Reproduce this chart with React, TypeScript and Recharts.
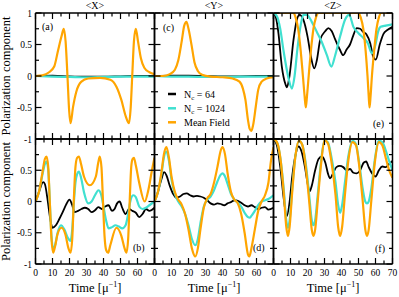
import { LineChart, Line, XAxis, YAxis } from 'recharts';

// (a) <X>, mean-field driven case
const aMfT = [0, 4, 8, 11, 13.3, 15.3, 16.6, 17.7, 18.8, 19.8, 20.6, 22.1, 24, 27, 31, 38, 44, 47.6, 50.5, 53.1, 55, 56, 56.9, 57.9, 59, 60.3, 62, 64, 67, 70];
const aMfV = [0, 0.01, 0.06, 0.15, 0.41, 0.63, 0.75, 0.55, 0, -0.55, -0.75, -0.49, -0.25, -0.09, -0.04, -0.03, -0.06, -0.17, -0.38, -0.64, -0.75, -0.5, 0, 0.55, 0.75, 0.55, 0.28, 0.13, 0.06, 0.03];
const aNcT = [0, 10, 20, 30, 40, 50, 60, 70];
const aN64V = [0, 0.005, -0.005, -0.01, -0.01, -0.005, 0, 0];
const aN1024V = [0, -0.01, -0.015, -0.02, -0.015, -0.01, -0.01, -0.01];

// (c) <Y>
const cMfT = [0, 5, 9, 12, 14, 16, 17.5, 18.8, 20, 21.8, 23.5, 25.5, 28, 33, 40, 46, 50, 52, 53.5, 55, 56, 57, 58, 59.5, 61, 63, 66, 70];
const cMfV = [0, 0, 0.03, 0.1, 0.25, 0.55, 0.8, 0.86, 0.75, 0.49, 0.22, 0.08, 0.02, -0.01, -0.02, -0.04, -0.09, -0.2, -0.38, -0.7, -0.84, -0.87, -0.78, -0.5, -0.22, -0.09, -0.04, -0.02];
const cNcT = [0, 10, 20, 30, 40, 50, 60, 70];
const cN64V = [0, 0.005, 0.005, 0, -0.005, -0.005, 0, 0];
const cN1024V = [0, -0.01, -0.01, -0.015, -0.015, -0.01, -0.01, -0.01];

// (e) <Z>
const eMfT = [0, 10, 11.8, 13, 14.5, 16, 17.3, 18.3, 19, 19.7, 20.7, 22, 23.5, 25, 26.5, 30, 45, 50, 51.3, 52.8, 54.2, 55.3, 56, 56.5, 57.1, 57.9, 59.2, 60.6, 62, 63.3, 70];
const eMfV = [1, 1, 1, 0.93, 0.75, 0.4, 0, -0.32, -0.5, -0.32, 0, 0.4, 0.75, 0.93, 1, 1, 1, 1, 0.93, 0.75, 0.4, 0, -0.32, -0.5, -0.32, 0, 0.4, 0.75, 0.93, 1, 1];
const eN64T = [0, 1.5, 2.9, 4.9, 6.9, 7.9, 9.4, 11.8, 13.7, 15.3, 17.6, 20, 22, 24, 25.5, 27.5, 30.4, 32.3, 34.3, 36.3, 39, 41, 43, 45, 47, 49, 51, 52.7, 54.7, 56.9, 58.5, 60.2, 62.5, 64.7, 67, 70];
const eN64V = [1, 0.92, 0.68, 0.15, -0.12, -0.18, 0, 0.58, 0.89, 0.97, 0.89, 0.63, 0.31, 0.12, 0.25, 0.58, 0.71, 0.76, 0.71, 0.58, 0.42, 0.33, 0.42, 0.5, 0.65, 0.76, 0.75, 0.7, 0.66, 0.52, 0.32, 0.26, 0.5, 0.67, 0.73, 0.78];
const eN1024T = [0, 2, 3.9, 5.9, 8.8, 10.8, 12.4, 14.1, 16, 17.6, 19.6, 22.5, 25.5, 28.4, 31.4, 34, 36.3, 39.2, 42.2, 44.5, 47, 50, 53, 55.5, 57.9, 60, 61.5, 63, 66, 70];
const eN1024V = [1, 0.95, 0.76, 0.4, -0.03, -0.2, 0, 0.44, 0.81, 0.97, 0.97, 0.86, 0.7, 0.54, 0.33, 0.15, 0.33, 0.63, 0.9, 0.97, 0.78, 0.68, 0.6, 0.52, 0.36, 0.5, 0.7, 0.78, 0.8, 0.82];

// (b) <X>, second setup
const bMfT = [0, 2, 4, 5.5, 6.5, 7.5, 8.4, 9.4, 10.4, 11.5, 13, 15.3, 17.5, 19.4, 20.6, 21.6, 22.5, 23.5, 24.5, 25.5, 26.8, 28.5, 32, 35.5, 36.9, 37.8, 38.8, 39.7, 40.6, 41.6, 42.7, 44, 47.6, 50.5, 52.4, 53.5, 54.5, 55.4, 56.3, 57.1, 57.9, 59, 61, 64.2, 66.5, 68.5, 70];
const bMfV = [0, 0.15, 0.45, 0.68, 0.72, 0.55, 0, -0.6, -0.82, -0.72, -0.52, -0.42, -0.52, -0.75, -0.82, -0.6, 0, 0.55, 0.7, 0.72, 0.6, 0.4, 0.26, 0.4, 0.62, 0.72, 0.55, 0, -0.55, -0.78, -0.82, -0.7, -0.42, -0.55, -0.75, -0.82, -0.6, 0, 0.55, 0.68, 0.7, 0.58, 0.3, 0, 0.2, 0.5, 0.7];
const bN1024T = [0, 2, 4, 5.5, 6.5, 7.5, 8.4, 9.4, 10.4, 11.5, 13, 15, 17, 19, 20.6, 21.6, 22.5, 23.5, 24.5, 25.5, 26.8, 28.5, 31, 33, 35, 37, 38.5, 40, 41.5, 43, 45, 47, 49, 51, 53, 54.5, 56, 57.5, 59, 61, 63, 65, 67, 70];
const bN1024V = [0, 0.15, 0.42, 0.6, 0.64, 0.5, 0, -0.55, -0.76, -0.7, -0.5, -0.38, -0.45, -0.58, -0.63, -0.45, -0.05, 0.3, 0.44, 0.48, 0.38, 0.15, -0.03, 0, 0.1, 0.18, 0.12, -0.08, -0.3, -0.43, -0.41, -0.38, -0.4, -0.43, -0.38, -0.2, 0.03, 0.1, 0.07, -0.08, -0.12, -0.1, -0.06, 0];
const bN64T = [0, 2, 4.5, 5.5, 7, 8.5, 10, 12, 14, 16, 18, 20, 21.5, 23, 25, 27, 29, 31, 33, 35, 37, 39, 41, 43, 45, 46.5, 48, 49.5, 51, 53, 55, 57, 59, 61, 63, 65, 67, 70];
const bN64V = [0, 0.15, 0.31, 0.28, 0.05, -0.25, -0.42, -0.38, -0.28, -0.17, -0.05, 0.03, -0.05, -0.17, -0.15, -0.12, -0.1, -0.12, -0.17, -0.14, -0.09, -0.12, -0.08, -0.06, -0.15, -0.12, -0.03, 0, -0.1, -0.2, -0.12, -0.15, -0.18, -0.25, -0.2, -0.12, -0.15, -0.1];

// (d) <Y>
const dMfT = [0, 2, 4, 5.5, 7, 8.5, 10, 12, 14, 16, 18, 20, 22, 24, 25.5, 27, 29, 31, 33, 35, 37, 39, 40, 41.5, 43, 45, 47, 49, 51, 53, 55, 55.8, 57, 59, 61, 63, 65, 67, 68.5, 70];
const dMfV = [0, 0.15, 0.45, 0.75, 0.87, 0.7, 0.4, 0.15, 0.03, -0.05, -0.2, -0.45, -0.75, -0.88, -0.75, -0.45, -0.1, 0.05, 0.12, 0.3, 0.55, 0.82, 0.87, 0.75, 0.45, 0.15, 0.03, -0.03, -0.2, -0.5, -0.85, -0.88, -0.75, -0.45, -0.15, 0, 0.1, 0.3, 0.65, 0.87];
const dN1024T = [0, 2, 4, 5.5, 7, 8.5, 10, 12, 14, 16, 18, 20, 22, 24, 25.5, 27, 29, 31, 33, 35, 37, 39, 40, 41.5, 43, 45, 47, 49, 51, 53, 55, 56, 57, 59, 61, 63, 65, 67, 70];
const dN1024V = [0, 0.15, 0.42, 0.7, 0.8, 0.65, 0.35, 0.12, 0, -0.08, -0.2, -0.38, -0.6, -0.7, -0.6, -0.35, -0.08, 0.03, 0.08, 0.18, 0.32, 0.43, 0.45, 0.4, 0.28, 0.12, 0.03, -0.02, -0.08, -0.18, -0.25, -0.26, -0.23, -0.15, -0.06, 0, 0.02, 0.04, 0.1];
const dN64T = [0, 2, 4, 5.7, 7, 9, 11, 13, 15, 17, 19, 21, 23, 25, 27, 29, 31, 33, 35, 37, 39, 41, 43, 45, 47, 49, 51, 53, 55, 57, 59, 61, 63, 65, 67, 70];
const dN64V = [0, 0.15, 0.35, 0.47, 0.42, 0.25, 0.12, 0.06, 0.08, 0.12, 0.13, 0.1, 0.08, 0.09, 0.08, 0.06, 0.02, -0.03, -0.05, -0.03, -0.04, -0.06, -0.03, -0.01, 0.02, 0.01, -0.02, -0.06, -0.08, -0.06, -0.09, -0.12, -0.1, -0.09, -0.13, -0.1];

// (f) <Z>
const fMfT = [0, 2, 4, 6, 7.5, 8.5, 9.5, 11, 13, 15, 17, 19, 21, 22.5, 23.5, 24.5, 26, 28, 30, 32, 34, 36.5, 38, 39.2, 40.4, 42, 44, 46.5, 48.5, 50.5, 52.5, 54, 55, 56, 57.5, 59.5, 62, 64, 66, 68, 70];
const fMfV = [1, 0.95, 0.7, 0.15, -0.4, -0.55, -0.4, 0.15, 0.75, 0.97, 0.9, 0.55, 0, -0.45, -0.55, -0.45, 0, 0.6, 0.98, 0.93, 0.65, 0.1, -0.4, -0.55, -0.4, 0.1, 0.65, 0.95, 0.9, 0.55, 0, -0.45, -0.55, -0.45, 0, 0.6, 0.95, 0.9, 0.7, 0.5, 0.38];
const fN1024V = [1, 0.95, 0.7, 0.2, -0.3, -0.42, -0.3, 0.2, 0.75, 0.97, 0.9, 0.6, 0.1, -0.3, -0.38, -0.3, 0.1, 0.65, 0.98, 0.95, 0.72, 0.3, -0.05, -0.18, -0.05, 0.3, 0.72, 0.97, 0.92, 0.6, 0.2, 0, -0.03, 0, 0.2, 0.65, 0.97, 0.95, 0.82, 0.65, 0.5];
const fN64T = [0, 2, 4, 6, 7.8, 9.5, 11, 13, 14.7, 16.5, 18.5, 20, 21.2, 22.5, 24.5, 26.5, 28.5, 30.5, 32, 33.3, 35, 37, 39, 41, 43, 45, 47, 49, 51, 53, 54.5, 56, 58, 60, 62, 64, 66, 68, 70];
const fN64V = [1, 0.9, 0.55, 0.05, -0.24, 0, 0.4, 0.75, 0.88, 0.8, 0.55, 0.3, 0.16, 0.25, 0.5, 0.68, 0.72, 0.62, 0.45, 0.37, 0.45, 0.55, 0.57, 0.55, 0.5, 0.52, 0.46, 0.45, 0.5, 0.62, 0.64, 0.55, 0.45, 0.4, 0.5, 0.56, 0.55, 0.6, 0.65];

const xTicks = [0, 5, 10, 15, 20, 25, 30, 35, 40, 45, 50, 55, 60, 65, 70];
const yTicks = [-1, -0.75, -0.5, -0.25, 0, 0.25, 0.5, 0.75, 1];

const W = 399;
const H = 297;
const colX = [35.5, 154.5, 273.5, 392.5];
const rowY = [13, 139, 264];
const FONT = '"Liberation Serif", "Times New Roman", serif';
const BLACK = '#000000';
const CYAN = '#40e0d0';
const ORANGE = '#ffa500';

const zip = (t: number[], v: number[]) => t.map((x, i) => ({ t: x, v: v[i] }));

const isMajorX = (v: number) => v % 10 === 0;
const isMajorY = (v: number) => Math.abs(v * 2 - Math.round(v * 2)) < 1e-6;

function makeTick(side: 'top' | 'bottom' | 'left' | 'right', labels: number[]) {
  return (p: any) => {
    const v = p.payload.value;
    const { x, y } = p;
    if (side === 'top' || side === 'bottom') {
      const len = isMajorX(v) ? 6 : 3.5;
      const d = side === 'bottom' ? -len : len;
      return (
        <g>
          <line x1={x} x2={x} y1={y} y2={y + d} stroke="#000" strokeWidth={1.2} />
          {side === 'bottom' && labels.includes(v) && (
            <text x={x} y={y + 11.5} textAnchor="middle" fontSize={9.5} fontFamily={FONT} fill="#000">
              {v}
            </text>
          )}
        </g>
      );
    }
    const len = isMajorY(v) ? 6 : 3.5;
    const d = side === 'left' ? len : -len;
    return (
      <g>
        <line x1={x} x2={x + d} y1={y} y2={y} stroke="#000" strokeWidth={1.2} />
        {side === 'left' && labels.includes(v) && (
          <text x={x - 3.5} y={y + 3.5} textAnchor="end" fontSize={9.5} fontFamily={FONT} fill="#000">
            {String(v)}
          </text>
        )}
      </g>
    );
  };
}

type PanelProps = {
  col: number;
  row: number;
  n64: { t: number; v: number }[];
  n1024: { t: number; v: number }[];
  mf: { t: number; v: number }[];
  xLabels: number[];
  yLabels: number[];
};

const frame = { stroke: '#000', strokeWidth: 1.5 };

// axes get a 1px box (a zero-size axis is not drawn), the margins make up for it
function Panel({ col, row, n64, n1024, mf, xLabels, yLabels }: PanelProps) {
  const left = colX[col];
  const right = colX[col + 1];
  const top = rowY[row];
  const bottom = rowY[row + 1];
  return (
    <div style={{ position: 'absolute', left: 0, top: 0 }}>
      <LineChart
        width={W}
        height={H}
        margin={{ top: top - 1, left: left - 1, right: W - right - 1, bottom: H - bottom - 1 }}
      >
        <XAxis
          type="number"
          dataKey="t"
          domain={[0, 70]}
          allowDataOverflow
          ticks={xTicks}
          interval={0}
          height={1}
          tickSize={0}
          tickMargin={0}
          tickLine={false}
          axisLine={frame}
          tick={makeTick('bottom', xLabels)}
        />
        <XAxis
          xAxisId="top"
          orientation="top"
          type="number"
          dataKey="t"
          domain={[0, 70]}
          allowDataOverflow
          ticks={xTicks}
          interval={0}
          height={1}
          tickSize={0}
          tickMargin={0}
          tickLine={false}
          axisLine={frame}
          tick={makeTick('top', [])}
        />
        <YAxis
          type="number"
          domain={[-1, 1]}
          allowDataOverflow
          ticks={yTicks}
          interval={0}
          width={1}
          tickSize={0}
          tickMargin={0}
          tickLine={false}
          axisLine={frame}
          tick={makeTick('left', yLabels)}
        />
        <YAxis
          yAxisId="right"
          orientation="right"
          type="number"
          domain={[-1, 1]}
          allowDataOverflow
          ticks={yTicks}
          interval={0}
          width={1}
          tickSize={0}
          tickMargin={0}
          tickLine={false}
          axisLine={frame}
          tick={makeTick('right', [])}
        />
        <Line data={n64} dataKey="v" type="monotone" stroke={BLACK} strokeWidth={1.8} dot={false} isAnimationActive={false} />
        <Line data={n1024} dataKey="v" type="monotone" stroke={CYAN} strokeWidth={2.2} dot={false} isAnimationActive={false} />
        <Line data={mf} dataKey="v" type="monotone" stroke={ORANGE} strokeWidth={2.2} dot={false} isAnimationActive={false} />
      </LineChart>
    </div>
  );
}

const xLabelsShort = [0, 10, 20, 30, 40, 50, 60];
const xLabelsFull = [0, 10, 20, 30, 40, 50, 60, 70];
const yLabelsTop = [-1, -0.5, 0, 0.5, 1];
const yLabelsBottom = [-1, -0.5, 0, 0.5];

const titles = ['<X>', '<Y>', '<Z>'];

export default function App() {
  const centers = [0, 1, 2].map((c) => (colX[c] + colX[c + 1]) / 2);
  return (
    <div style={{ position: 'absolute', left: 0, top: 0, width: W, height: H, background: '#fff', overflow: 'hidden' }}>
      <Panel col={0} row={0} n64={zip(aNcT, aN64V)} n1024={zip(aNcT, aN1024V)} mf={zip(aMfT, aMfV)} xLabels={[]} yLabels={yLabelsTop} />
      <Panel col={1} row={0} n64={zip(cNcT, cN64V)} n1024={zip(cNcT, cN1024V)} mf={zip(cMfT, cMfV)} xLabels={[]} yLabels={[]} />
      <Panel col={2} row={0} n64={zip(eN64T, eN64V)} n1024={zip(eN1024T, eN1024V)} mf={zip(eMfT, eMfV)} xLabels={[]} yLabels={[]} />
      <Panel col={0} row={1} n64={zip(bN64T, bN64V)} n1024={zip(bN1024T, bN1024V)} mf={zip(bMfT, bMfV)} xLabels={xLabelsShort} yLabels={yLabelsBottom} />
      <Panel col={1} row={1} n64={zip(dN64T, dN64V)} n1024={zip(dN1024T, dN1024V)} mf={zip(dMfT, dMfV)} xLabels={xLabelsShort} yLabels={[]} />
      <Panel col={2} row={1} n64={zip(fN64T, fN64V)} n1024={zip(fMfT, fN1024V)} mf={zip(fMfT, fMfV)} xLabels={xLabelsFull} yLabels={[]} />

      <svg width={W} height={H} style={{ position: 'absolute', left: 0, top: 0 }} fontFamily={FONT}>
        {titles.map((t, i) => (
          <text key={t} x={centers[i]} y={8.5} textAnchor="middle" fontSize={10}>
            {t}
          </text>
        ))}
        {[76, 201.5].map((cy) => (
          <text key={cy} x={10} y={cy} transform={`rotate(-90 10 ${cy})`} textAnchor="middle" fontSize={12.5}>
            Polarization component
          </text>
        ))}
        {centers.map((cx) => (
          <text key={cx} x={cx} y={292} textAnchor="middle" fontSize={12.5}>
            Time [μ<tspan dy={-5} fontSize={8}>−1</tspan>
            <tspan dy={5}>]</tspan>
          </text>
        ))}
        <text x={42} y={30} fontSize={10}>(a)</text>
        <text x={163} y={31} fontSize={10}>(c)</text>
        <text x={373} y={127} fontSize={10}>(e)</text>
        <text x={133} y={251} fontSize={10}>(b)</text>
        <text x={253} y={251} fontSize={10}>(d)</text>
        <text x={375} y={252} fontSize={10}>(f)</text>

        <line x1={168} x2={176} y1={94} y2={94} stroke={BLACK} strokeWidth={2.5} />
        <text x={184} y={97.5} fontSize={10}>
          N<tspan dy={2.5} fontSize={7}>c</tspan>
          <tspan dy={-2.5}> = 64</tspan>
        </text>
        <line x1={168} x2={176} y1={108.3} y2={108.3} stroke={CYAN} strokeWidth={2.5} />
        <text x={184} y={111.8} fontSize={10}>
          N<tspan dy={2.5} fontSize={7}>c</tspan>
          <tspan dy={-2.5}> = 1024</tspan>
        </text>
        <line x1={168} x2={176} y1={122.3} y2={122.3} stroke={ORANGE} strokeWidth={2.5} />
        <text x={184} y={125.8} fontSize={10}>Mean Field</text>
      </svg>
    </div>
  );
}
